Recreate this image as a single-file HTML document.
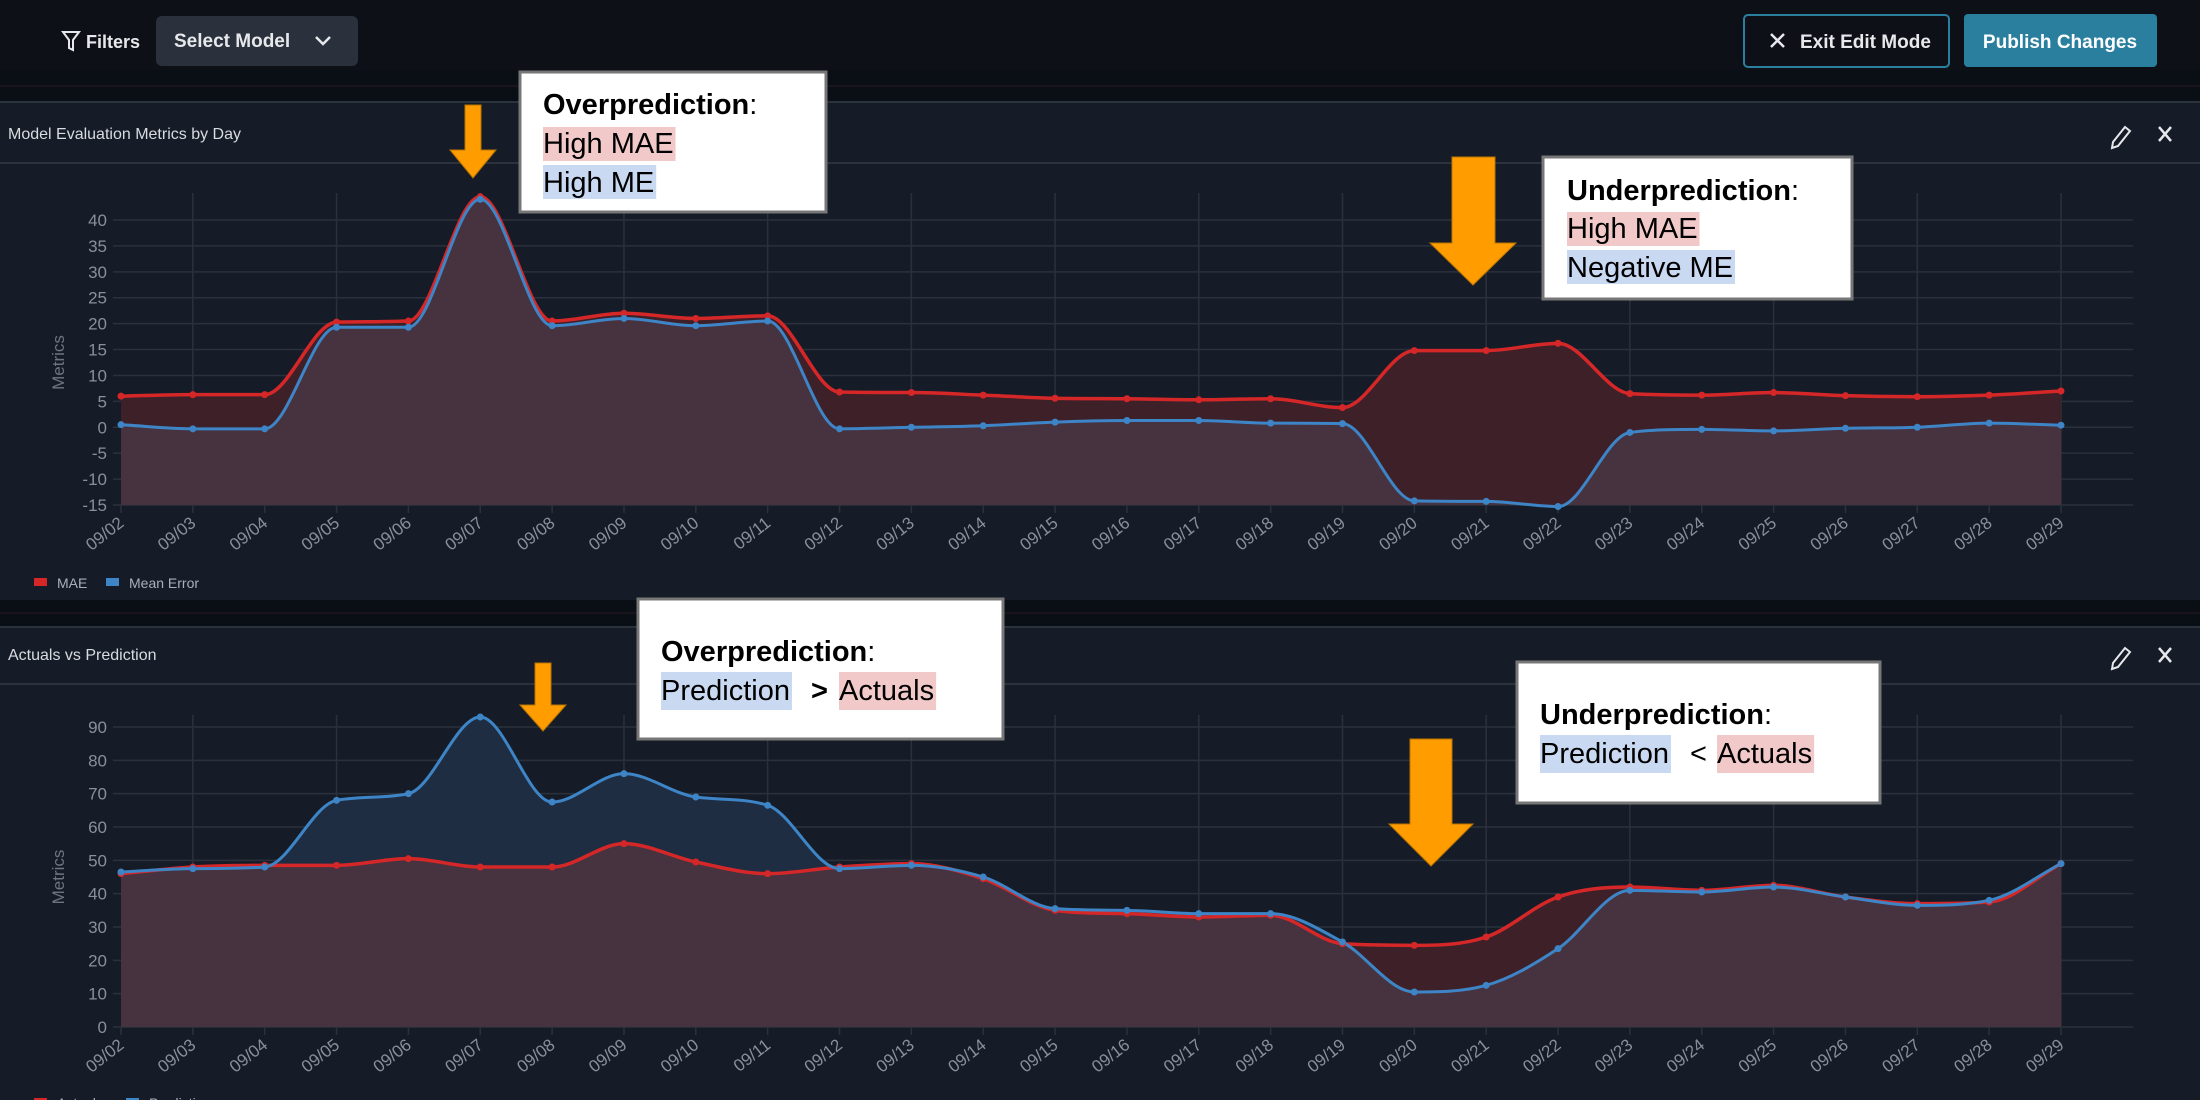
<!DOCTYPE html>
<html><head><meta charset="utf-8"><style>
html,body{margin:0;padding:0;background:#161c27;overflow:hidden}
svg{display:block;font-family:"Liberation Sans",sans-serif}
</style></head><body>
<svg id="s" width="2200" height="1100" viewBox="0 0 2200 1100" xmlns="http://www.w3.org/2000/svg" style="position:absolute;left:0;top:0">
<rect x="0" y="0" width="2200" height="1100" fill="#161c27"/>
<g>
<rect x="0" y="0" width="2200" height="70" fill="#0d1117"/>
<rect x="0" y="70" width="2200" height="33" fill="#0a0e15"/>
<line x1="0" y1="86" x2="2200" y2="86" stroke="#2a1a24" stroke-width="1"/>
<line x1="0" y1="102" x2="2200" y2="102" stroke="#2c323c" stroke-width="2"/>
<g>
<path d="M63 32 L79 32 L73 40 L73 50 L69 48 L69 40 Z" fill="none" stroke="#e6e8eb" stroke-width="2"/>
<text x="86" y="48" font-size="18" font-weight="bold" fill="#e6e8eb">Filters</text></g>
<g>
<rect x="156" y="16" width="202" height="50" rx="6" fill="#2a313c"/>
<text x="174" y="47" font-size="19" font-weight="bold" fill="#e6e8eb">Select Model</text>
<path d="M316 37 L323 44 L330 37" fill="none" stroke="#e6e8eb" stroke-width="2.5"/></g>
<g>
<rect x="1744" y="15" width="205" height="52" rx="4" fill="#0d1117" stroke="#2a7f9f" stroke-width="2"/>
<path d="M1771 34 L1784 47 M1784 34 L1771 47" stroke="#e6e8eb" stroke-width="2.5"/>
<text x="1800" y="48" font-size="19" font-weight="bold" fill="#e6e8eb">Exit Edit Mode</text></g>
<g>
<rect x="1964" y="14" width="193" height="53" rx="4" fill="#2a7f9f"/>
<text x="2060" y="48" font-size="19" font-weight="bold" fill="#ffffff" text-anchor="middle">Publish Changes</text></g>
</g>
<g>
<rect x="0" y="600" width="2200" height="27" fill="#0a0e15"/>
<line x1="0" y1="613" x2="2200" y2="613" stroke="#2a1a24"/>
<line x1="0" y1="627" x2="2200" y2="627" stroke="#2c323c" stroke-width="2"/>
</g>
<text x="8" y="139" font-size="16" fill="#d8dbe0">Model Evaluation Metrics by Day</text>
<line x1="0" y1="163" x2="2200" y2="163" stroke="#2c323c" stroke-width="2"/>
<text x="8" y="660" font-size="16" fill="#d8dbe0">Actuals vs Prediction</text>
<line x1="0" y1="684" x2="2200" y2="684" stroke="#2c323c" stroke-width="2"/>
<g><path d="M2113 142 L2125 127 L2130 131 L2118 146 L2112 148 Z" fill="none" stroke="#e6e8eb" stroke-width="2"/></g>
<g><path d="M2159 127 L2171 141 M2171 127 L2159 141" stroke="#e6e8eb" stroke-width="2.5"/></g>
<g><path d="M2113 663 L2125 648 L2130 652 L2118 667 L2112 669 Z" fill="none" stroke="#e6e8eb" stroke-width="2"/></g>
<g><path d="M2159 648 L2171 662 M2171 648 L2159 662" stroke="#e6e8eb" stroke-width="2.5"/></g>
<g id="c1"></g><g id="c2"></g>
<g>
<rect x="34" y="578" width="13" height="8" fill="#d62728"/><text x="57" y="588" font-size="14" fill="#aab0b9">MAE</text>
<rect x="106" y="578" width="13" height="8" fill="#3d85c6"/><text x="129" y="588" font-size="14" fill="#aab0b9">Mean Error</text>
</g>
<g>
<rect x="34" y="1098" width="13" height="8" fill="#d62728"/><text x="57" y="1108" font-size="14" fill="#aab0b9">Actuals</text>
<rect x="126" y="1098" width="13" height="8" fill="#3d85c6"/><text x="149" y="1108" font-size="14" fill="#aab0b9">Prediction</text>
</g>
<g font-family="Liberation Sans, sans-serif">
<g><path d="M465 105 L481 105 L481 150 L496 150 L473 178 L450 150 L465 150 Z" fill="#ff9d00" stroke="#b87400" stroke-width="1"/></g>
<g>
<rect x="520" y="72" width="306" height="140" fill="#fff" stroke="#777" stroke-width="3"/>
<text x="543" y="114" font-size="29" font-weight="bold" fill="#000">Overprediction<tspan font-weight="normal">:</tspan></text>
<rect class="hl" x="543" y="127" width="122" height="34" fill="#f2c9c9"/><text x="543" y="153" font-size="29" fill="#000">High MAE</text>
<rect class="hl" x="543" y="165" width="122" height="34" fill="#c9d9f2"/><text x="543" y="192" font-size="29" fill="#000">High ME</text></g>
<g><path d="M1452 157 L1495 157 L1495 243 L1516 243 L1473 285 L1430 243 L1452 243 Z" fill="#ff9d00" stroke="#b87400" stroke-width="1"/></g>
<g>
<rect x="1543" y="157" width="309" height="142" fill="#fff" stroke="#777" stroke-width="3"/>
<text x="1567" y="200" font-size="29" font-weight="bold" fill="#000">Underprediction<tspan font-weight="normal">:</tspan></text>
<rect class="hl" x="1567" y="212" width="143" height="34" fill="#f2c9c9"/><text x="1567" y="238" font-size="29" fill="#000">High MAE</text>
<rect class="hl" x="1567" y="250" width="183" height="34" fill="#c9d9f2"/><text x="1567" y="277" font-size="29" fill="#000">Negative ME</text></g>
<g><path d="M535 663 L551 663 L551 705 L566 705 L543 731 L520 705 L535 705 Z" fill="#ff9d00" stroke="#b87400" stroke-width="1"/></g>
<g>
<rect x="638" y="599" width="365" height="140" fill="#fff" stroke="#777" stroke-width="3"/>
<text x="661" y="661" font-size="29" font-weight="bold" fill="#000">Overprediction<tspan font-weight="normal">:</tspan></text>
<rect class="hl" x="661" y="672" width="142" height="38" fill="#c9d9f2"/><text x="661" y="700" font-size="29" fill="#000">Prediction</text>
<text x="811" y="700" font-size="29" font-weight="bold" fill="#000">&gt;</text>
<rect class="hl" x="839" y="672" width="106" height="38" fill="#f2c9c9"/><text x="839" y="700" font-size="29" fill="#000">Actuals</text></g>
<g><path d="M1410 739 L1452 739 L1452 824 L1473 824 L1431 866 L1389 824 L1410 824 Z" fill="#ff9d00" stroke="#b87400" stroke-width="1"/></g>
<g>
<rect x="1517" y="662" width="363" height="141" fill="#fff" stroke="#777" stroke-width="3"/>
<text x="1540" y="724" font-size="29" font-weight="bold" fill="#000">Underprediction<tspan font-weight="normal">:</tspan></text>
<rect class="hl" x="1540" y="735" width="142" height="38" fill="#c9d9f2"/><text x="1540" y="763" font-size="29" fill="#000">Prediction</text>
<text x="1690" y="763" font-size="29" fill="#000">&lt;</text>
<rect class="hl" x="1717" y="735" width="106" height="38" fill="#f2c9c9"/><text x="1717" y="763" font-size="29" fill="#000">Actuals</text></g>
</g>
</svg>
<script>
const days=["09/02","09/03","09/04","09/05","09/06","09/07","09/08","09/09","09/10","09/11","09/12","09/13","09/14","09/15","09/16","09/17","09/18","09/19","09/20","09/21","09/22","09/23","09/24","09/25","09/26","09/27","09/28","09/29"];
const maeVals=[6,6.3,6.3,20.3,20.5,44.5,20.5,22,21,21.5,6.8,6.7,6.2,5.6,5.5,5.3,5.5,3.8,14.8,14.8,16.2,6.5,6.2,6.7,6.1,5.9,6.2,7];
const meVals=[0.5,-0.3,-0.3,19.3,19.3,44,19.6,21,19.6,20.5,-0.3,0,0.3,1,1.3,1.3,0.8,0.7,-14.2,-14.3,-15.3,-1,-0.4,-0.7,-0.2,0,0.8,0.4];
const actualVals=[46,48,48.5,48.5,50.5,48,48,55,49.5,46,48,49,44.5,35,34,33,33.5,25,24.5,27,39,42,41,42.5,39,37,37.5,49];
const predVals=[46.5,47.5,48,68,70,93,67.5,76,69,66.5,47.5,48.5,45,35.5,35,34,34,25.5,10.5,12.5,23.5,41,40.5,42,39,36.5,38,49];
const topTicks=[-15,-10,-5,0,5,10,15,20,25,30,35,40];
const botTicks=[0,10,20,30,40,50,60,70,80,90];
const NS="http://www.w3.org/2000/svg";
function mk(tag,attrs,parent){const e=document.createElementNS(NS,tag);for(const k in attrs)e.setAttribute(k,attrs[k]);parent.appendChild(e);return e;}
const X0=121,X1=2061;
function xs(i){return X0+(X1-X0)*i/(days.length-1);}
function curve(pts){const n=pts.length,dx=[],sl=[],m=[];
 for(let i=0;i<n-1;i++){dx[i]=pts[i+1][0]-pts[i][0];sl[i]=(pts[i+1][1]-pts[i][1])/dx[i];}
 m[0]=sl[0];m[n-1]=sl[n-2];
 for(let i=1;i<n-1;i++){m[i]=(sl[i-1]*sl[i]<=0)?0:(sl[i-1]+sl[i])/2;}
 for(let i=0;i<n-1;i++){if(sl[i]===0){m[i]=0;m[i+1]=0;continue;}
  const a=m[i]/sl[i],b=m[i+1]/sl[i],s=a*a+b*b;if(s>9){const t=3/Math.sqrt(s);m[i]=t*a*sl[i];m[i+1]=t*b*sl[i];}}
 let d="M"+pts[0][0]+" "+pts[0][1];
 for(let i=0;i<n-1;i++){const h=dx[i]/3;
  d+=` C${pts[i][0]+h} ${pts[i][1]+m[i]*h} ${pts[i+1][0]-h} ${pts[i+1][1]-m[i+1]*h} ${pts[i+1][0]} ${pts[i+1][1]}`;}
 return d;}
function chart(g,ys,ticks,A,B,nameA,nameB,tag,gridTop){
 const yMin=ticks[0];
 ticks.forEach(v=>{const y=ys(v);
  const l=mk("line",{x1:X0-8,y1:y,x2:2133,y2:y,stroke:"#2b313c","stroke-width":1.5},g);
  
  
  const t=mk("text",{x:X0-14,y:y+6,"font-size":17,fill:"#8a8f99","text-anchor":"end"},g);t.textContent=v;
  
  });
 days.forEach((d,i)=>{const x=xs(i);
  const l=mk("line",{x1:x,y1:(i%2===1?gridTop:ys(yMin)),x2:x,y2:ys(yMin)+8,stroke:"#2b313c","stroke-width":1.5},g);
  
  
  const t=mk("text",{x:x+4,y:ys(yMin)+20,"font-size":17,fill:"#8a8f99","text-anchor":"end",transform:`rotate(-38 ${x+4} ${ys(yMin)+20})`},g);t.textContent=d;
  
  });
 const yb=ys(yMin);
 const pa=A.map((v,i)=>[xs(i),ys(v)]),pb=B.map((v,i)=>[xs(i),ys(v)]);
 const ca=curve(pa),cb=curve(pb);
 const areaA=ca+` L${X1} ${yb} L${X0} ${yb} Z`,areaB=cb+` L${X1} ${yb} L${X0} ${yb} Z`;
 const cp=mk("clipPath",{id:"clip"+tag},g);mk("path",{d:areaA},cp);
 const aa=mk("path",{d:areaA,fill:"#3e2029"},g);
 
 
 if(tag==="b"){const ab=mk("path",{d:areaB,fill:"#1f2d42"},g);
  
  }
 const am=mk("path",{d:areaB,fill:"#47323f","clip-path":`url(#clip${tag})`},g);
 
 
 const la=mk("path",{d:ca,fill:"none",stroke:"#d62728","stroke-width":3.5},g);
 
 
 const lb=mk("path",{d:cb,fill:"none",stroke:"#3d85c6","stroke-width":3},g);
 
 
 pa.forEach(p=>{const c=mk("circle",{cx:p[0],cy:p[1],r:3.5,fill:"#d62728"},g);
  
  });
 pb.forEach(p=>{const c=mk("circle",{cx:p[0],cy:p[1],r:3.5,fill:"#3d85c6"},g);
  
  });
 const at=mk("text",{x:0,y:0,"font-size":17,fill:"#6f7580","text-anchor":"middle",transform:`translate(64 ${(ys(ticks[0])+ys(ticks[ticks.length-1]))/2}) rotate(-90)`},g);at.textContent="Metrics";
 
 
}
const g1=document.getElementById("c1");


chart(g1,v=>220+(40-v)*(505-220)/55,topTicks,maeVals,meVals,"mae","mean-error","a",193);
const g2=document.getElementById("c2");


chart(g2,v=>1027-v*(1027-727)/90,botTicks,actualVals,predVals,"actuals","prediction","b",715);
document.querySelectorAll("rect.hl").forEach(r=>{const t=r.nextElementSibling;try{r.setAttribute("width",t.getBBox().width+2);}catch(e){}});
</script>
</body></html>
